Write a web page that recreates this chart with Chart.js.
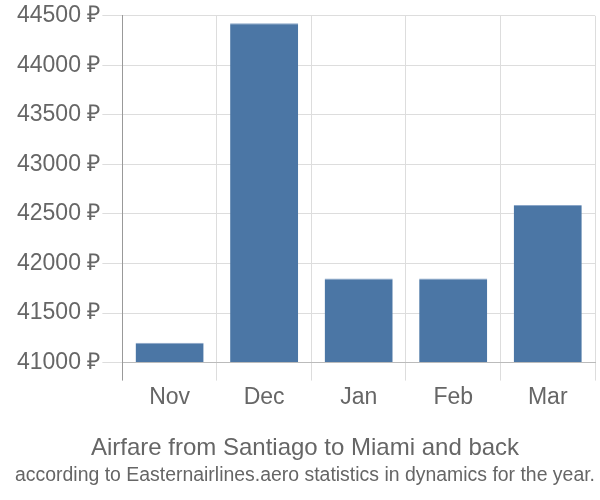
<!DOCTYPE html>
<html>
<head>
<meta charset="utf-8">
<script src="https://cdn.jsdelivr.net/npm/chart.js@4"></script>
<style>
  html, body { margin: 0; padding: 0; background: #fff; }
  #wrap { width: 600px; height: 500px; }
</style>
</head>
<body>
<div id="wrap"><canvas id="chart" width="600" height="500"></canvas></div>
<script>
// données
const months = ['Nov', 'Dec', 'Jan', 'Feb', 'Mar'];
const prices = [41200, 44425, 41850, 41850, 42590];
const yTicks = [41000, 41500, 42000, 42500, 43000, 43500, 44000, 44500];

const titleText = 'Airfare from Santiago to Miami and back';
const subtitleText = 'according to Easternairlines.aero statistics in dynamics for the year.';

window.addEventListener('DOMContentLoaded', () => {
    const textColor = '#666';
    const fontFamily = '"Liberation Sans", Arial, sans-serif';

    new Chart(document.getElementById('chart'), {
        type: 'bar',
        data: {
            labels: months,
            datasets: [{
                data: prices,
                backgroundColor: '#4b76a5',
                borderColor: '#8aa6c8',
                borderWidth: { top: 1, left: 0, right: 0, bottom: 0 },
                base: yTicks[0]
            }]
        },
        options: {
            responsive: false,
            animation: false,
            layout: { padding: { top: 1, right: 5, left: 15, bottom: 13 } },
            plugins: {
                legend: { display: false },
                tooltip: { enabled: false },
                title: {
                    display: true,
                    text: titleText,
                    position: 'bottom',
                    color: textColor,
                    font: { family: fontFamily, size: 24, weight: 'normal' },
                    padding: { top: 20, bottom: 0 }
                },
                subtitle: {
                    display: true,
                    text: subtitleText,
                    position: 'bottom',
                    weight: 3000,
                    color: textColor,
                    font: { family: fontFamily, size: 20, weight: 'normal' },
                    padding: { top: 0, bottom: 0 }
                }
            },
            scales: {
                x: {
                    grid: {
                        color: (ctx) => ctx.index === 0 ? '#999' : '#ddd',
                        tickLength: 18
                    },
                    border: { color: '#bbb' },
                    ticks: {
                        color: textColor,
                        font: { family: fontFamily, size: 23 },
                        padding: 3
                    }
                },
                y: {
                    min: yTicks[0],
                    max: yTicks[yTicks.length - 1],
                    afterBuildTicks: (axis) => {
                        axis.ticks = yTicks.map(v => ({ value: v }));
                    },
                    grid: { color: '#ddd', tickLength: 20 },
                    border: { color: '#999' },
                    ticks: {
                        color: textColor,
                        font: { family: fontFamily, size: 23 },
                        padding: 2,
                        callback: (v) => v + ' ₽'
                    }
                }
            }
        }
    });
});
</script>
</body>
</html>
